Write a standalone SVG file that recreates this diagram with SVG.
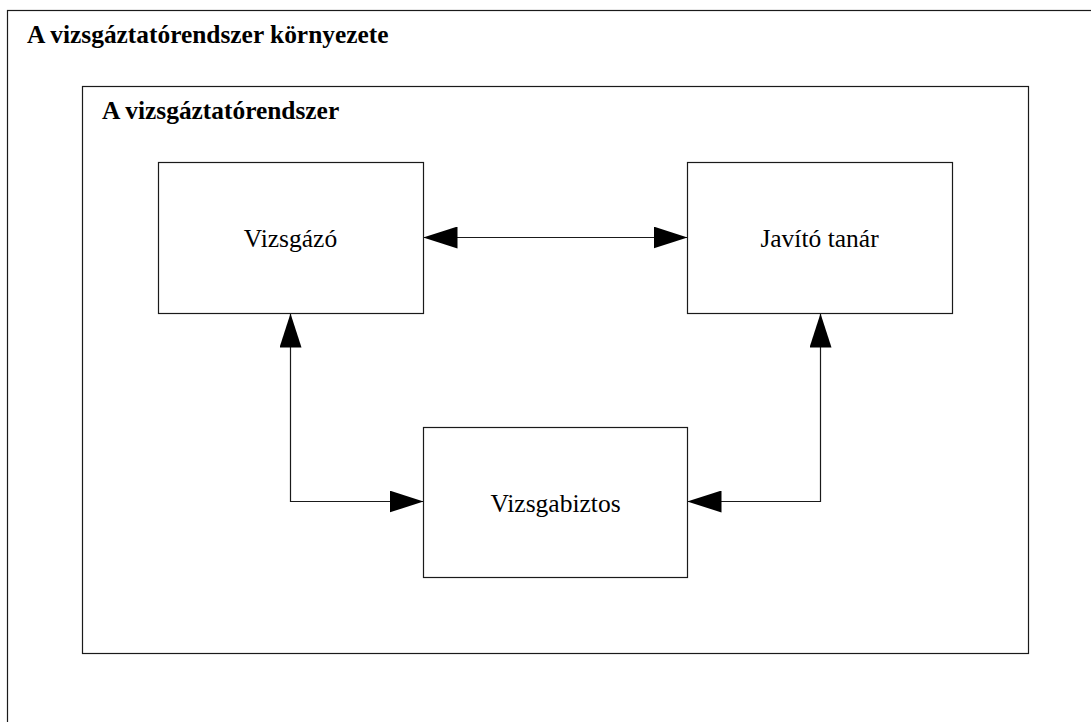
<svg xmlns="http://www.w3.org/2000/svg" width="1091" height="722" viewBox="0 0 1091 722">
  <style>
    .frame { fill: #ffffff; stroke: #1a1a1a; stroke-width: 1.2; }
    .box { fill: #ffffff; stroke: #1a1a1a; stroke-width: 1.2; }
    .title { font-family: 'Liberation Serif', 'Times New Roman', Times, serif; font-weight: 700; font-size: 25.4px; fill: #000; }
    .label { font-family: 'Liberation Serif', 'Times New Roman', Times, serif; font-weight: 400; font-size: 25.5px; fill: #000; text-anchor: middle; }
    .conn { fill: none; stroke: #1a1a1a; stroke-width: 1.2; }
  </style>
  <defs>
    <marker id="head" viewBox="0 0 34 22" refX="34" refY="11" markerWidth="34" markerHeight="22" markerUnits="userSpaceOnUse" orient="auto-start-reverse">
      <path d="M0,0 L34,11 L0,22 Z" fill="#000"/>
    </marker>
  </defs>

  <rect width="1091" height="722" fill="#ffffff"/>

  <!-- environment frame (continues past the canvas edge) -->
  <g id="environment">
    <rect class="frame" x="7.5" y="10.5" width="1100" height="730"/>
    <text class="title" x="27" y="43">A vizsgáztatórendszer környezete</text>
  </g>

  <!-- system frame -->
  <g id="system">
    <rect class="frame" x="82.5" y="86.5" width="946" height="567"/>
    <text class="title" x="102" y="119">A vizsgáztatórendszer</text>
  </g>

  <g id="vizsgazo">
    <rect class="box" x="158.5" y="162.5" width="265" height="151"/>
    <text class="label" x="290.5" y="247">Vizsgázó</text>
  </g>

  <g id="javito-tanar">
    <rect class="box" x="687.5" y="162.5" width="265" height="151"/>
    <text class="label" x="819.5" y="247">Javító tanár</text>
  </g>

  <g id="vizsgabiztos">
    <rect class="box" x="423.5" y="427.5" width="264" height="150"/>
    <text class="label" x="555.5" y="512">Vizsgabiztos</text>
  </g>

  <g id="connectors">
    <path class="conn" d="M423.5,237.5 H687.5" marker-start="url(#head)" marker-end="url(#head)"/>
    <path class="conn" d="M290.5,313.5 V501.5 H423.5" marker-start="url(#head)" marker-end="url(#head)"/>
    <path class="conn" d="M820.5,313.5 V501.5 H687.5" marker-start="url(#head)" marker-end="url(#head)"/>
  </g>
</svg>
